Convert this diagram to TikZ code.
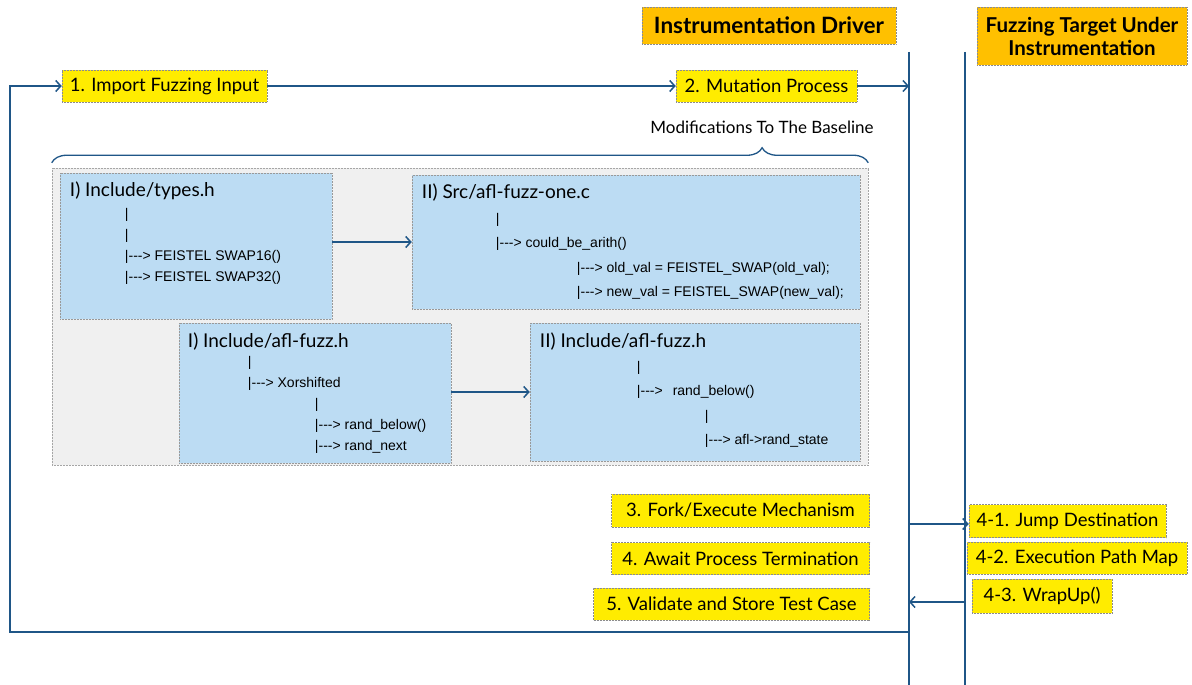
\documentclass[tikz,border=0pt]{standalone}
\usepackage{fontspec}
\setmainfont{Lato}
\newfontfamily\codefont{Liberation Sans}
\usetikzlibrary{positioning,arrows.meta,decorations.pathreplacing,calc}

\definecolor{stepyellow}{RGB}{255,236,0}
\definecolor{headorange}{RGB}{255,192,0}
\definecolor{codeblue}{RGB}{188,220,243}
\definecolor{panelgray}{RGB}{240,240,240}
\definecolor{flowblue}{RGB}{31,86,135}

% branch marker used in the code listings
\newcommand{\arw}{|-\kern0pt-\kern0pt-\kern0pt>}

\begin{document}
\begin{tikzpicture}[
  x=1pt, y=-1pt,
  >={Straight Barb[length=5pt, width=11pt]},
  flow/.style={draw=flowblue, line width=1.5pt},
  link/.style={flow, ->},
  stepbox/.style={draw=black!45, densely dotted, line width=0.5pt, fill=stepyellow,
    minimum height=32pt, inner sep=0pt, font=\fontsize{18.5}{22}\selectfont},
  headbox/.style={draw=black!45, densely dotted, line width=0.5pt, fill=headorange,
    align=center, inner sep=0pt, font=\bfseries\fontsize{22.5}{23}\selectfont},
  srcbox/.style={draw=black!40, densely dotted, line width=0.5pt, fill=codeblue, inner sep=0pt},
  fname/.style={anchor=west, inner sep=0pt, font=\fontsize{19}{22}\selectfont},
  code/.style={anchor=north west, inner sep=0pt, align=left, font=\codefont\fontsize{14}{21}\selectfont},
  loosecode/.style={code, font=\codefont\fontsize{14}{24.4}\selectfont},
]
\useasboundingbox (0,0) rectangle (1192,685);

% ---- lanes ----
\node[headbox, minimum width=254pt, minimum height=37pt] (drvhead) at (769,25.5) {Instrumentation Driver};
\node[headbox, minimum width=210pt, minimum height=58pt, font=\bfseries\fontsize{20.5}{23}\selectfont]
  (tgthead) at (1082,36) {Fuzzing Target Under\\Instrumentation};
\coordinate (drvtop) at (909,52);
\coordinate (drvbot) at (909,685);
\coordinate (tgttop) at (965,52);
\coordinate (tgtbot) at (965,685);
\draw[flow] (drvtop) -- (drvbot);
\draw[flow] (tgttop) -- (tgtbot);

% ---- input and mutation ----
\node[stepbox, minimum width=205pt] (imp) at (164.5,86) {1. Import Fuzzing Input};
\node[stepbox, minimum width=181pt] (mut) at (766.5,86) {2. Mutation Process};
\draw[link] (imp) -- (mut);
\draw[link] (mut) -- (mut -| drvtop);

% ---- modifications to the baseline ----
\node[font=\fontsize{17}{20}\selectfont] (modlbl) at (762,127) {Modifications To The Baseline};
\node[draw=black!35, densely dotted, line width=0.5pt, fill=panelgray, minimum width=816pt,
  minimum height=297pt, inner sep=0pt] (panel) at (460,316.5) {};
\draw[flow, line width=1.3pt, decorate, decoration={brace, amplitude=15pt, aspect=0.87}]
  ([yshift=5pt]panel.north west) -- ([yshift=5pt]panel.north east);

\node[srcbox, minimum width=272pt, minimum height=146pt] (typesh) at (196,246) {};
\node[srcbox, minimum width=448pt, minimum height=134pt] (fuzzone) at (636,242) {};
\node[srcbox, minimum width=272pt, minimum height=140pt] (fuzzha) at (315,393) {};
\node[srcbox, minimum width=330pt, minimum height=138pt] (fuzzhb) at (695,392) {};
\draw[link] (typesh.east |- fuzzone) -- (fuzzone.west);
\draw[link] (fuzzha.east |- fuzzhb) -- (fuzzhb.west);

\node[fname] (typesttl) at ($(typesh.north west)+(10,18)$) {I) Include/types.h};
\node[code] (typescode) at ($(typesh.north west)+(65,35.4)$)
  {|\\|\\\arw\ FEISTEL SWAP16()\\\arw\ FEISTEL SWAP32()};

\node[fname] (fuzzonettl) at ($(fuzzone.north west)+(10,18)$) {II) Src/afl-fuzz-one.c};
\node[loosecode] (fuzzonecode) at ($(fuzzone.north west)+(84,38.4)$)
  {|\\\arw\ could\_be\_arith()\\
   \hspace*{81pt}\arw\ old\_val = FEISTEL\_SWAP(old\_val);\\
   \hspace*{81pt}\arw\ new\_val = FEISTEL\_SWAP(new\_val);};

\node[fname] (fuzzhattl) at ($(fuzzha.north west)+(9,19)$) {I) Include/afl-fuzz.h};
\node[code] (fuzzhacode) at ($(fuzzha.north west)+(69,33.4)$)
  {|\\\arw\ Xorshifted\\
   \hspace*{67pt}|\\
   \hspace*{67pt}\arw\ rand\_below()\\
   \hspace*{67pt}\arw\ rand\_next};

\node[fname] (fuzzhbttl) at ($(fuzzhb.north west)+(10,19)$) {II) Include/afl-fuzz.h};
\node[loosecode] (fuzzhbcode) at ($(fuzzhb.north west)+(107,38.4)$)
  {|\\\arw\hspace{10pt}rand\_below()\\
   \hspace*{68pt}|\\
   \hspace*{68pt}\arw\ afl->rand\_state};

% ---- execution ----
\node[stepbox, minimum width=258pt, minimum height=33pt] (fork) at (740.5,510.5) {3. Fork/Execute Mechanism};
\node[stepbox, minimum width=258pt, below=15pt of fork] (await) {4. Await Process Termination};
\node[stepbox, minimum width=276pt, below=13pt of await.south east, anchor=north east] (valid) {5. Validate and Store Test Case};

\node[stepbox, minimum width=197pt, minimum height=33pt] (jmp) at (1067.5,521) {4-1. Jump Destination};
\node[stepbox, minimum width=220pt] (epm) at (1077,558) {4-2. Execution Path Map};
\node[stepbox, minimum width=140pt, minimum height=34pt] (wrap) at (1042,596) {4-3. WrapUp()};

\coordinate (forkout) at (909,524);
\draw[link] (forkout) -- (forkout -| jmp.west);
\coordinate (wrapin) at (965,602);
\draw[link] (wrapin) -- (wrapin -| drvtop);

% ---- feedback loop ----
\coordinate (loopend) at (909,632);
\coordinate (loopcorner) at (10,632);
\draw[link] (loopend) -- (loopcorner) |- (imp.west);
\end{tikzpicture}
\end{document}
